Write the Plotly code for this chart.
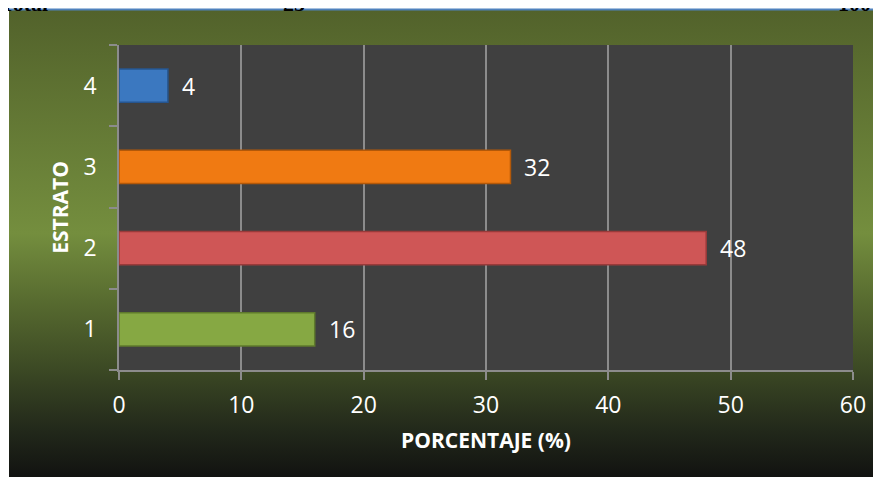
import base64
import plotly.graph_objects as go

# ---- data ----
categories = ["1", "2", "3", "4"]
values = [16, 48, 32, 4]
bar_colors = ["#86a843", "#cf5656", "#f07a12", "#3b78c0"]
bar_edges = ["#5f7a2c", "#9a3a3a", "#b35808", "#26558f"]
x_ticks = [0, 10, 20, 30, 40, 50, 60]
top_texts = ["Total", "25", "100"]

# the page body has an 8px margin: work in page pixels and convert
OFF = 8
W, H = 881, 477
PL, PR, PT, PB = 119, 853, 45, 370          # plot area in page pixels
L, T = PL - OFF, PT - OFF
R = W - (PR - OFF)
B = H - (PB - OFF)
pw, ph = PR - PL, PB - PT


def px2x(px):
    return (px - PL) / pw


def py2y(py):
    return (PB - py) / ph


svg = (
    '<svg xmlns="http://www.w3.org/2000/svg" width="100" height="100" preserveAspectRatio="none">'
    '<defs><linearGradient id="g" x1="0" y1="0" x2="0" y2="1">'
    '<stop offset="0" stop-color="#52622b"/>'
    '<stop offset="0.47" stop-color="#748e3e"/>'
    '<stop offset="0.62" stop-color="#56692f"/>'
    '<stop offset="0.76" stop-color="#3b4824"/>'
    '<stop offset="0.89" stop-color="#21271a"/>'
    '<stop offset="1" stop-color="#0f0f0f"/>'
    '</linearGradient></defs>'
    '<rect width="100" height="100" fill="url(#g)"/></svg>'
)
uri = "data:image/svg+xml;base64," + base64.b64encode(svg.encode()).decode()

fig = go.Figure()
fig.add_trace(go.Bar(
    y=categories, x=values, orientation="h",
    marker=dict(color=bar_colors, line=dict(color=bar_edges, width=1.5)),
    width=0.41, hoverinfo="skip", showlegend=False,
))

annotations = []
for i, (c, v) in enumerate(zip(categories, values)):
    annotations.append(dict(
        x=v, y=i, xref="x", yref="y", text=str(v), showarrow=False,
        xanchor="left", yanchor="middle", xshift=12,
        font=dict(family="Open Sans", size=23, color="white"),
    ))

for txt, px in zip(top_texts, [-2, 281, 836]):
    annotations.append(dict(
        x=px2x(px), y=py2y(18), xref="paper", yref="paper", text="<b>" + txt + "</b>",
        showarrow=False, xanchor="left", yanchor="bottom",
        font=dict(family="Liberation Serif", size=22, color="black"),
    ))

fig.update_layout(
    width=W, height=H,
    margin=dict(l=L, r=R, t=T, b=B),
    paper_bgcolor="white",
    plot_bgcolor="#404040",
    annotations=annotations,
    images=[dict(
        source=uri, xref="paper", yref="paper",
        x=px2x(9), y=py2y(10), sizex=px2x(W + OFF) - px2x(9), sizey=py2y(10) - py2y(H + OFF),
        xanchor="left", yanchor="top", sizing="stretch", layer="below",
    )],
    shapes=[
        dict(type="rect", xref="paper", yref="paper", x0=0, x1=1, y0=0, y1=1,
             fillcolor="#404040", line=dict(width=0), layer="below"),
        dict(type="line", xref="paper", yref="paper", x0=px2x(0), x1=px2x(W + OFF),
             y0=py2y(9.5), y1=py2y(9.5), line=dict(color="#4f81bd", width=2)),
    ],
    xaxis=dict(
        range=[0, 60], tickvals=x_ticks, ticks="outside", ticklen=8, tickcolor="#8c8c8c",
        tickwidth=1.5, showgrid=True, gridcolor="#8c8c8c", gridwidth=1.5, zeroline=False,
        showline=True, linecolor="#8c8c8c", linewidth=1.5, ticklabelstandoff=6,
        tickfont=dict(family="Open Sans", size=23, color="white"),
        title=dict(text="<b>PORCENTAJE (%)</b>", standoff=14,
                   font=dict(family="Open Sans", size=21, color="white")),
        fixedrange=True,
    ),
    yaxis=dict(
        type="category", categoryorder="array", categoryarray=categories,
        range=[-0.5, 3.5], tickson="boundaries", ticks="outside", ticklen=8,
        tickcolor="#8c8c8c", tickwidth=1.5, showgrid=False, zeroline=False,
        showline=True, linecolor="#8c8c8c", linewidth=1.5, ticklabelstandoff=16,
        tickfont=dict(family="Open Sans", size=23, color="white"),
        title=dict(text="<b>ESTRATO</b>", standoff=9,
                   font=dict(family="Open Sans", size=21, color="white")),
        fixedrange=True,
    ),
)

fig.write_html("out.html")
